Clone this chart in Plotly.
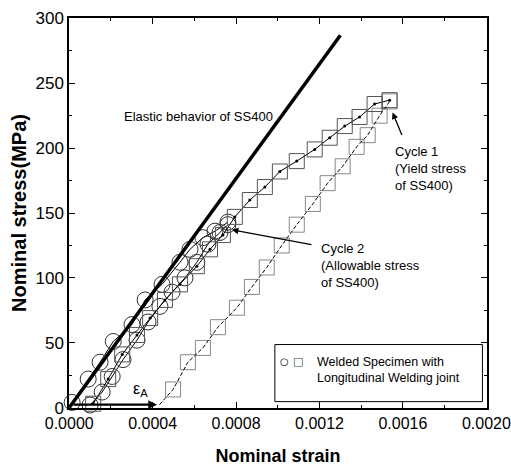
import plotly.graph_objects as go

# ---- data ----
elastic_strain = [0.0, 0.00130]
elastic_stress = [0.0, 287.0]

cycle1_load_strain = [0.000115, 0.000187, 0.000254, 0.000325, 0.000388, 0.000459, 0.000531,
                      0.000612, 0.000675, 0.000737, 0.000794, 0.000866, 0.000938, 0.001010,
                      0.001091, 0.001177, 0.001249, 0.001321, 0.001392, 0.001464, 0.001536]
cycle1_load_stress = [3, 22, 41, 56, 69, 83, 95, 109, 122, 133, 147, 160, 170, 182,
                      190, 199, 208, 217, 224, 234, 237]

cycle1_unload_strain = [0.001536, 0.001488, 0.001431, 0.001378, 0.001311, 0.001239, 0.001168,
                        0.001091, 0.001019, 0.000947, 0.000876, 0.000804, 0.000713, 0.000641,
                        0.000569, 0.000498, 0.000426]
cycle1_unload_stress = [236, 225, 210, 201, 186, 173, 157, 141, 125, 108, 93, 77, 62, 46,
                        35, 14, 1]

cycle2_load_strain = [0.000014, 0.000091, 0.000148, 0.000211, 0.000301, 0.000364, 0.000445,
                      0.000531, 0.000579, 0.000641, 0.000699, 0.000761]
cycle2_load_stress = [4, 22, 35, 51, 64, 83, 95, 112, 122, 131, 136, 143]

cycle2_unload_strain = [0.000761, 0.000723, 0.000665, 0.000612, 0.000555, 0.000493, 0.000435,
                        0.000378, 0.000325, 0.000258, 0.000206, 0.000158, 0.000100]
cycle2_unload_stress = [141, 135, 126, 112, 100, 89, 78, 66, 52, 37, 24, 12, 2]

x_tick_vals = [0.0, 0.0004, 0.0008, 0.0012, 0.0016, 0.0020]
x_tick_text = ["0.0000", "0.0004", "0.0008", "0.0012", "0.0016", "0.0020"]
y_tick_vals = [0, 50, 100, 150, 200, 250, 300]

FONT = "Arial, Liberation Sans, sans-serif"

fig = go.Figure()

# cycle 2 (circles)
fig.add_trace(go.Scatter(x=cycle2_load_strain, y=cycle2_load_stress, mode="lines+markers",
                         line=dict(color="black", width=1),
                         marker=dict(symbol="circle-open", size=16, color="#333",
                                     line=dict(width=1)),
                         cliponaxis=False, showlegend=False))
fig.add_trace(go.Scatter(x=cycle2_unload_strain, y=cycle2_unload_stress, mode="lines+markers",
                         line=dict(color="black", width=1),
                         marker=dict(symbol="circle-open", size=16, color="#333",
                                     line=dict(width=1)),
                         cliponaxis=False, showlegend=False))

# cycle 1 (squares)
fig.add_trace(go.Scatter(x=cycle1_load_strain, y=cycle1_load_stress, mode="lines+markers",
                         line=dict(color="black", width=1),
                         marker=dict(symbol="square-open", size=15, color="#555",
                                     line=dict(width=1)),
                         cliponaxis=False, showlegend=False))
fig.add_trace(go.Scatter(x=cycle1_load_strain, y=cycle1_load_stress, mode="markers",
                         marker=dict(symbol="circle", size=3, color="black"),
                         cliponaxis=False, showlegend=False))
n_un = len(cycle1_unload_strain)
fig.add_trace(go.Scatter(x=cycle1_unload_strain, y=cycle1_unload_stress, mode="lines+markers",
                         line=dict(color="black", width=1, dash="4px,2px"),
                         marker=dict(symbol="square-open", size=[15] * (n_un - 1) + [0],
                                     color="#555", line=dict(width=1)),
                         cliponaxis=False, showlegend=False))

# elastic line
fig.add_trace(go.Scatter(x=elastic_strain, y=elastic_stress, mode="lines",
                         line=dict(color="black", width=3.5), showlegend=False))

ann_font = dict(family=FONT, size=13, color="black")
annotations = [
    dict(x=0.000254, y=224, text="Elastic behavior of SS400", showarrow=False,
         xanchor="left", yanchor="middle", font=ann_font),
    dict(x=0.00155, y=205, text="Cycle 1<br>(Yield stress<br>of SS400)", showarrow=False,
         xanchor="left", yanchor="top", align="left", font=ann_font),
    dict(x=0.001196, y=130, text="Cycle 2<br>(Allowable stress<br>of SS400)", showarrow=False,
         xanchor="left", yanchor="top", align="left", font=ann_font),
    # arrows
    dict(x=0.00155, y=227.5, ax=10, ay=24, text="", showarrow=True, arrowhead=2,
         arrowsize=1, arrowwidth=1.3, arrowcolor="black"),
    dict(x=0.00078, y=137, ax=81, ay=15, text="", showarrow=True, arrowhead=2,
         arrowsize=1, arrowwidth=1.3, arrowcolor="black"),
    dict(x=0.000421, y=2.3, ax=-85, ay=0, text="", showarrow=True, arrowhead=2,
         arrowsize=0.8, arrowwidth=2.2, arrowcolor="black"),
    dict(x=0.00034, y=14, text="ε<sub>A</sub>", showarrow=False,
         font=dict(family=FONT, size=16, color="black")),
    # legend
    dict(x=0.001034, y=35.5, text="○", showarrow=False,
         font=dict(family="DejaVu Sans", size=10, color="black")),
    dict(x=0.001096, y=35.5, text="□", showarrow=False,
         font=dict(family="DejaVu Sans", size=11, color="#444")),
    dict(x=0.001177, y=29.3, text="Welded Specimen with<br>Longitudinal Welding joint",
         showarrow=False, xanchor="left", yanchor="middle", align="left",
         font=dict(family=FONT, size=12.5, color="black")),
]

fig.add_shape(type="rect", x0=0.000986, x1=0.001981, y0=4.6, y1=48.6,
              line=dict(color="black", width=1), fillcolor="white", layer="below")

fig.update_layout(
    width=511, height=474,
    margin=dict(l=69, r=24, t=18, b=66),
    paper_bgcolor="white", plot_bgcolor="white",
    annotations=annotations,
    font=dict(family=FONT, color="black"),
    xaxis=dict(range=[-0.000001, 0.002003], tickvals=x_tick_vals, ticktext=x_tick_text,
               ticks="inside", ticklen=6, tickwidth=1.2, tickcolor="black",
               minor=dict(ticks="inside", ticklen=3, dtick=0.0002, tickcolor="black"),
               showline=True, linecolor="black", linewidth=1.5, mirror="ticks",
               showgrid=False, zeroline=False, ticklabeloverflow="allow",
               automargin=False,
               tickfont=dict(family=FONT, size=16, color="black"),
               title=dict(text="<b>Nominal strain</b>", standoff=18,
                          font=dict(family=FONT, size=18, color="black"))),
    yaxis=dict(range=[-0.3, 300.3], tickvals=y_tick_vals,
               ticks="inside", ticklen=6, tickwidth=1.2, tickcolor="black",
               minor=dict(ticks="inside", ticklen=3, dtick=25, tickcolor="black"),
               showline=True, linecolor="black", linewidth=1.5, mirror="ticks",
               showgrid=False, zeroline=False, automargin=False,
               tickfont=dict(family=FONT, size=17, color="black"),
               title=dict(text="<b>Nominal stress(MPa)</b>", standoff=3,
                          font=dict(family=FONT, size=20, color="black"))),
)

fig.write_html("out.html", config={"displayModeBar": False},
               post_script="document.body.style.margin='0';document.body.style.padding='0';")
